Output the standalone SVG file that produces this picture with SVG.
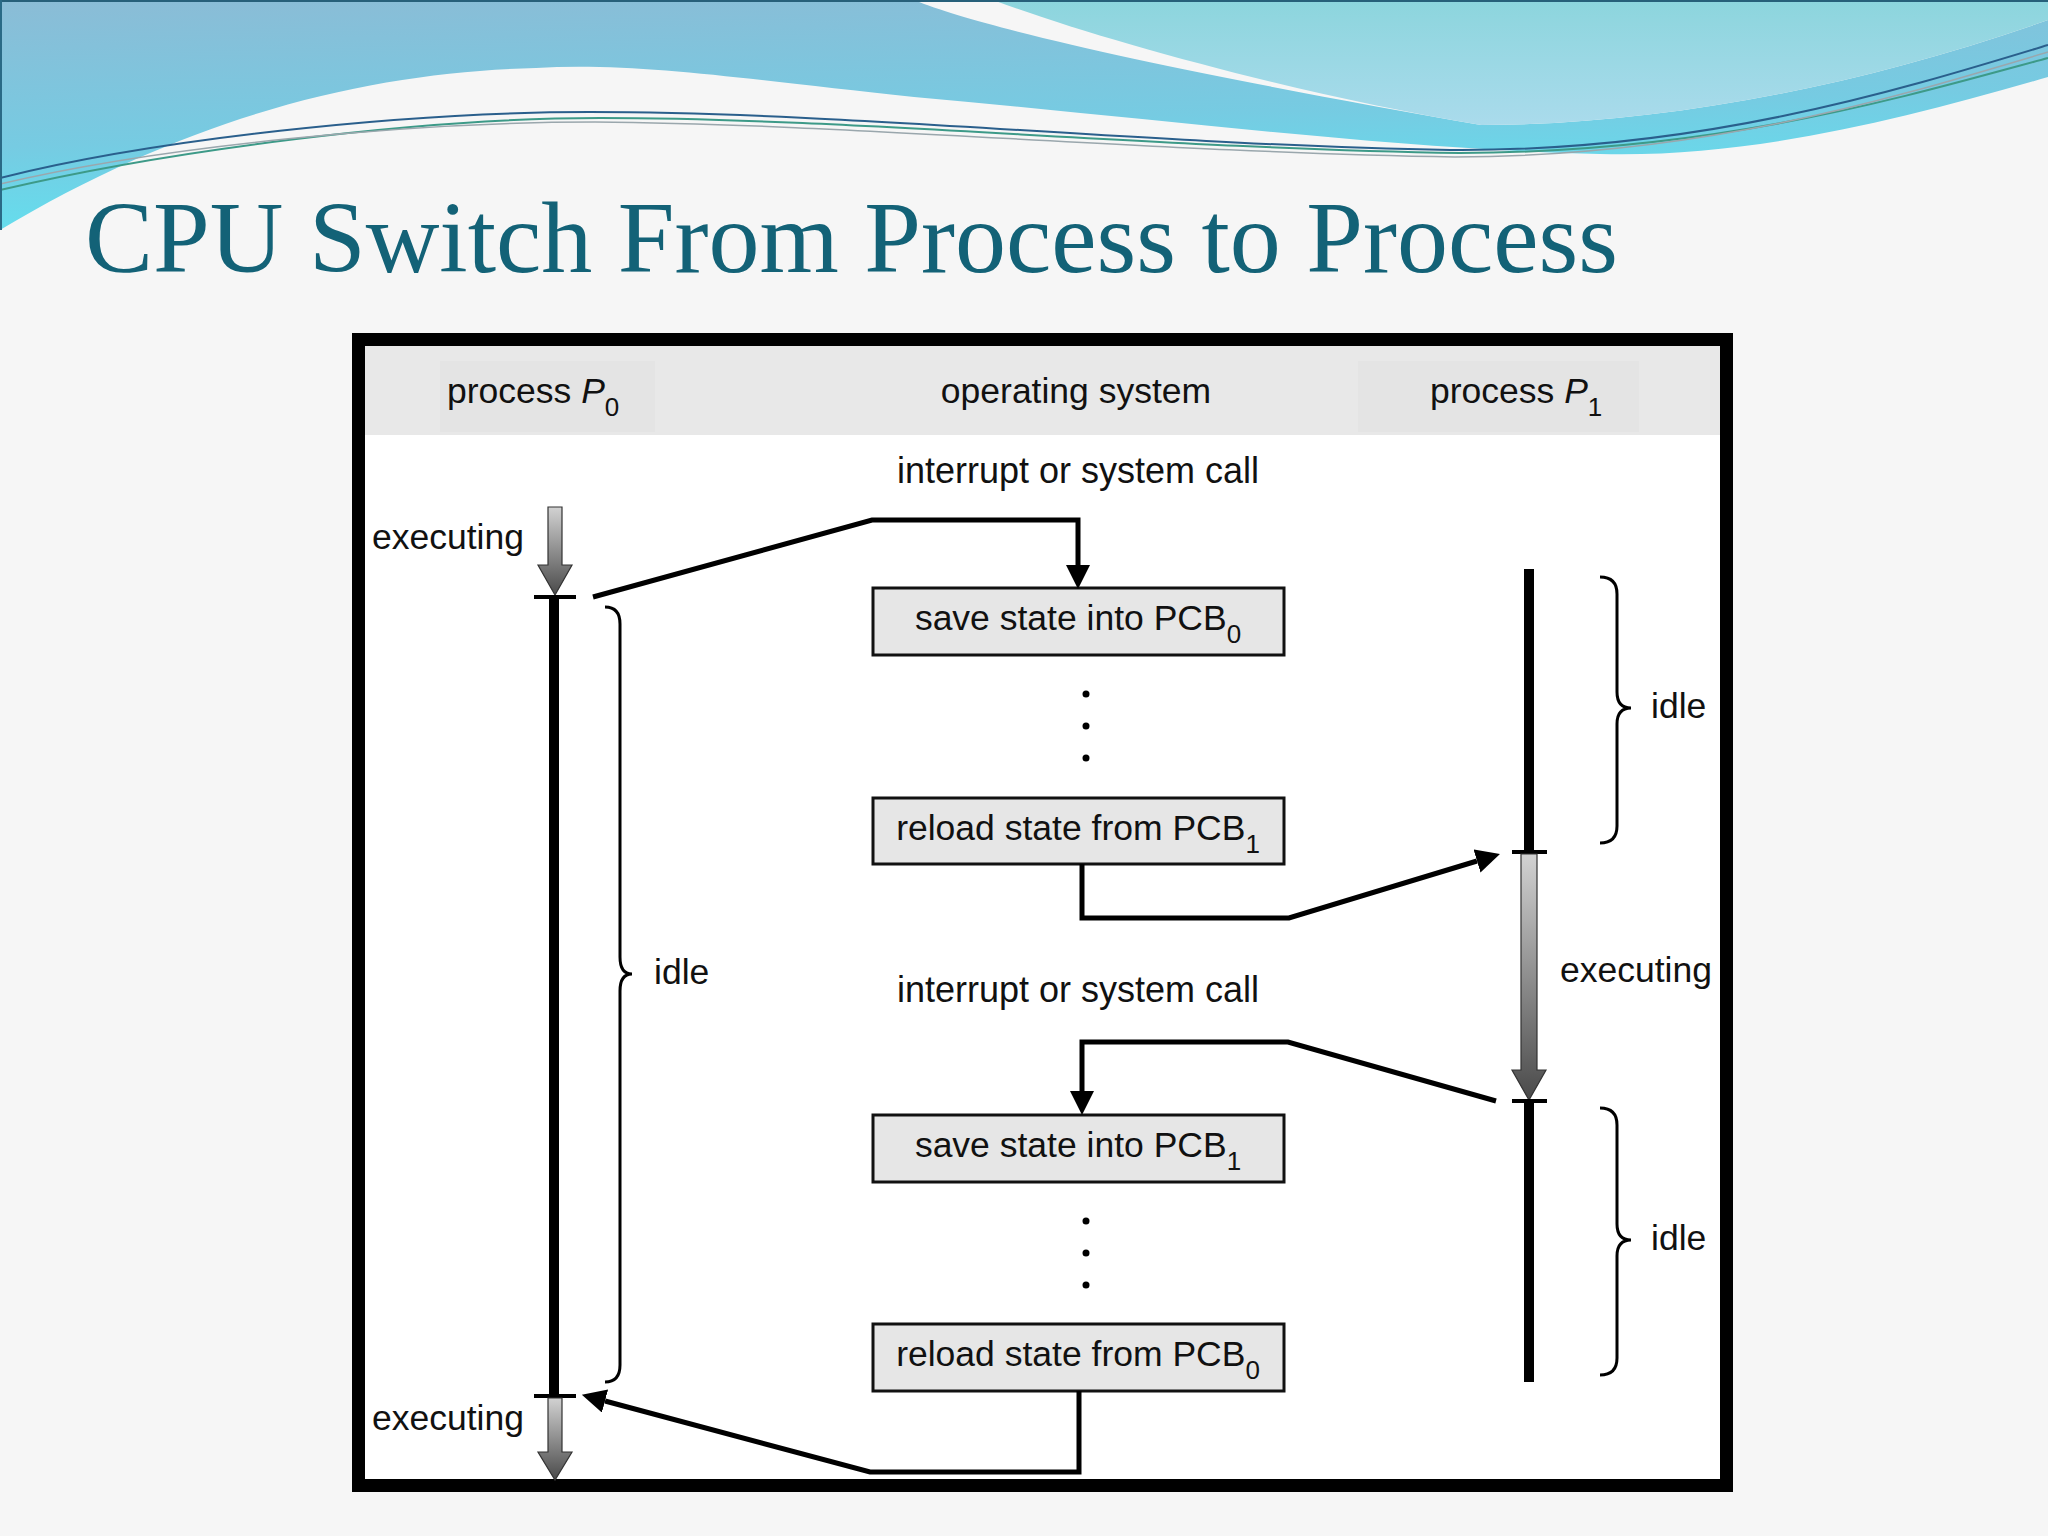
<svg xmlns="http://www.w3.org/2000/svg" width="2048" height="1536" viewBox="0 0 2048 1536">
  <defs>
    <linearGradient id="gWaveA" x1="0" y1="0" x2="0.25" y2="1">
      <stop offset="0" stop-color="#8bbcd6"/>
      <stop offset="0.6" stop-color="#76cbe2"/>
      <stop offset="1" stop-color="#62e0ef"/>
    </linearGradient>
    <linearGradient id="gWaveB" x1="0" y1="0" x2="0" y2="1">
      <stop offset="0" stop-color="#8cd5dd"/>
      <stop offset="1" stop-color="#aadbec"/>
    </linearGradient>
    <linearGradient id="gArrow" x1="0" y1="0" x2="0" y2="1">
      <stop offset="0" stop-color="#d2d2d2"/>
      <stop offset="1" stop-color="#4a4a4a"/>
    </linearGradient>
    <marker id="ah" markerUnits="userSpaceOnUse" markerWidth="32" markerHeight="26" refX="0" refY="12" orient="auto">
      <path d="M0,0 L24,12 L0,24 Z" fill="#000"/>
    </marker>
    <style>
      .lbl { font-family: "Liberation Sans", Arial, Helvetica, sans-serif; font-size: 35.5px; fill: #111; }
      .big { font-size: 36px; }
      .sub { font-size: 26px; }
      .it { font-style: italic; }
      .box { fill: #e6e6e6; stroke: #111; stroke-width: 3; }
      .conn { fill: none; stroke: #000; stroke-width: 5; stroke-linejoin: miter; }
      .tl { stroke: #000; stroke-width: 10; }
      .tick { stroke: #000; stroke-width: 4; }
      .brace { fill: none; stroke: #000; stroke-width: 3; }
      .garrow { fill: url(#gArrow); stroke: #333; stroke-width: 1.2; }
      .dot { fill: #000; }
    </style>
  </defs>

  <!-- slide background -->
  <rect x="0" y="0" width="2048" height="1536" fill="#f6f6f6"/>
  <path d="M0,0 L914,0 C1000,35 1250,85 1481,125 C1650,125 1850,90 2048,20 L2048,77 C1900,120 1750,158 1600,154 C1400,150 1150,118 914,97 C750,80 640,62 536,68 C380,72 200,110 0,230 Z" fill="url(#gWaveA)"/>
  <path d="M993,0 L2048,0 L2048,20 C1850,90 1650,125 1481,125 C1300,95 1100,40 993,0 Z" fill="url(#gWaveB)"/>
  <path d="M0,178 C150,140 400,112 590,112 C850,112 1150,145 1450,150 C1700,152 1900,90 2048,45" fill="none" stroke="#2a5f8c" stroke-width="2"/>
  <path d="M0,190 C170,150 420,118 600,118 C850,118 1150,148 1460,153 C1720,152 1900,98 2048,58" fill="none" stroke="#3d9a88" stroke-width="2"/>
  <path d="M0,184 C160,146 410,122 595,122 C850,124 1150,152 1455,157 C1710,156 1900,96 2048,52" fill="none" stroke="#9aa7ad" stroke-width="1.5"/>
  <rect x="0" y="0" width="2048" height="2" fill="#27607a"/>
  <rect x="0" y="0" width="2" height="230" fill="#2a6a86"/>

  <!-- title -->
  <text x="85" y="272" font-family="'Liberation Serif', 'Times New Roman', serif" font-size="102" fill="#136277">CPU Switch From Process to Process</text>

  <!-- diagram frame -->
  <g id="frame">
    <rect x="358.5" y="339.5" width="1368" height="1146" fill="#ffffff" stroke="#000" stroke-width="13"/>
    <rect x="365" y="346" width="1355" height="89" fill="#e8e8e8"/>
    <rect x="440" y="361" width="215" height="71" fill="#e4e4e4"/>
    <rect x="1358" y="361" width="281" height="71" fill="#e4e4e4"/>
  </g>

  <!-- column headers -->
  <g id="header-p0"><text class="lbl" x="447" y="403">process <tspan class="it">P</tspan><tspan class="sub" dy="13">0</tspan></text></g>
  <g id="header-os"><text class="lbl" x="1076" y="403" text-anchor="middle">operating system</text></g>
  <g id="header-p1"><text class="lbl" x="1430" y="403">process <tspan class="it">P</tspan><tspan class="sub" dy="13">1</tspan></text></g>

  <!-- labels -->
  <g id="label-int1"><text class="lbl big" x="1078" y="483" text-anchor="middle">interrupt or system call</text></g>
  <g id="label-int2"><text class="lbl big" x="1078" y="1002" text-anchor="middle">interrupt or system call</text></g>

  <!-- process P0 timeline -->
  <g id="p0-timeline">
    <polygon class="garrow" points="548,507 562,507 562,565 572,565 555,595 538,565 548,565"/>
    <line class="tick" x1="534" y1="597" x2="576" y2="597"/>
    <line class="tl" x1="554" y1="597" x2="554" y2="1396"/>
    <line class="tick" x1="534" y1="1396" x2="576" y2="1396"/>
    <polygon class="garrow" points="548,1398 562,1398 562,1452 572,1452 555,1480 538,1452 548,1452"/>
    <text class="lbl" x="372" y="549">executing</text>
    <text class="lbl" x="372" y="1430">executing</text>
    <path class="brace" d="M605,607 Q620,607 620,624 L620,957 Q620,974 632,974 Q620,974 620,991 L620,1365 Q620,1382 605,1382"/>
    <text class="lbl" x="654" y="984">idle</text>
  </g>

  <!-- process P1 timeline -->
  <g id="p1-timeline">
    <line class="tl" x1="1529" y1="569" x2="1529" y2="852"/>
    <line class="tick" x1="1512" y1="852" x2="1547" y2="852"/>
    <polygon class="garrow" points="1521,854 1537,854 1537,1070 1546,1070 1529,1100 1512,1070 1521,1070"/>
    <line class="tick" x1="1512" y1="1101" x2="1547" y2="1101"/>
    <line class="tl" x1="1529" y1="1101" x2="1529" y2="1382"/>
    <path class="brace" d="M1600,577 Q1617,577 1617,594 L1617,692 Q1617,708 1631,708 Q1617,708 1617,724 L1617,826 Q1617,843 1600,843"/>
    <text class="lbl" x="1651" y="718">idle</text>
    <text class="lbl" x="1560" y="982">executing</text>
    <path class="brace" d="M1600,1108 Q1617,1108 1617,1125 L1617,1224 Q1617,1240 1631,1240 Q1617,1240 1617,1256 L1617,1358 Q1617,1375 1600,1375"/>
    <text class="lbl" x="1651" y="1250">idle</text>
  </g>

  <!-- OS boxes -->
  <g id="box-save0">
    <rect class="box" x="873" y="588" width="411" height="67"/>
    <text class="lbl" x="1078" y="630" text-anchor="middle">save state into PCB<tspan class="sub" dy="13">0</tspan></text>
  </g>
  <g id="dots1">
    <circle class="dot" cx="1086" cy="694" r="3.5"/>
    <circle class="dot" cx="1086" cy="726" r="3.5"/>
    <circle class="dot" cx="1086" cy="758" r="3.5"/>
  </g>
  <g id="box-reload1">
    <rect class="box" x="873" y="798" width="411" height="66"/>
    <text class="lbl" x="1078" y="840" text-anchor="middle">reload state from PCB<tspan class="sub" dy="13">1</tspan></text>
  </g>
  <g id="box-save1">
    <rect class="box" x="873" y="1115" width="411" height="67"/>
    <text class="lbl" x="1078" y="1157" text-anchor="middle">save state into PCB<tspan class="sub" dy="13">1</tspan></text>
  </g>
  <g id="dots2">
    <circle class="dot" cx="1086" cy="1221" r="3.5"/>
    <circle class="dot" cx="1086" cy="1253" r="3.5"/>
    <circle class="dot" cx="1086" cy="1285" r="3.5"/>
  </g>
  <g id="box-reload0">
    <rect class="box" x="873" y="1324" width="411" height="67"/>
    <text class="lbl" x="1078" y="1366" text-anchor="middle">reload state from PCB<tspan class="sub" dy="13">0</tspan></text>
  </g>

  <!-- connectors -->
  <g id="connectors">
    <path class="conn" d="M593,597 L872,520 L1078,520 L1078,565" marker-end="url(#ah)"/>
    <path class="conn" d="M1082,864 L1082,918 L1289,918 L1477,861" marker-end="url(#ah)"/>
    <path class="conn" d="M1496,1101 L1288,1042 L1082,1042 L1082,1091" marker-end="url(#ah)"/>
    <path class="conn" d="M1079,1391 L1079,1472 L870,1472 L605,1401" marker-end="url(#ah)"/>
  </g>
</svg>
